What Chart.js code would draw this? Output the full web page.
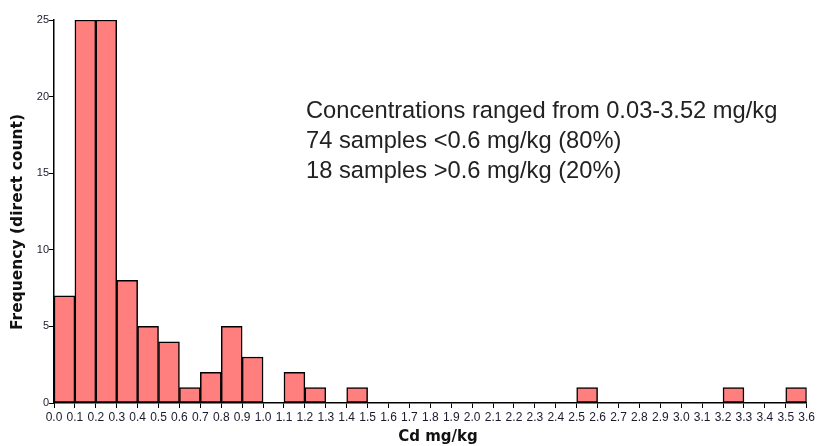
<!DOCTYPE html>
<html>
<head>
<meta charset="utf-8">
<script src="https://cdn.jsdelivr.net/npm/chart.js@4/dist/chart.umd.min.js"></script>
<style>
  html, body { margin: 0; padding: 0; background: #fff; }
  #wrap { width: 817px; height: 446px; position: relative; }
</style>
</head>
<body>
<div id="wrap"><canvas id="histChart"></canvas></div>
<script>
// Cd concentration bins (mg/kg), lower edge of each 0.1-wide bin
const binStarts = [
  0.0, 0.1, 0.2, 0.3, 0.4, 0.5, 0.6, 0.7, 0.8, 0.9,
  1.0, 1.1, 1.2, 1.3, 1.4, 1.5, 1.6, 1.7, 1.8, 1.9,
  2.0, 2.1, 2.2, 2.3, 2.4, 2.5, 2.6, 2.7, 2.8, 2.9,
  3.0, 3.1, 3.2, 3.3, 3.4, 3.5,
];
const counts = [
  7, 25, 25, 8, 5, 4, 1, 2, 5, 3,
  0, 2, 1, 0, 1, 0, 0, 0, 0, 0,
  0, 0, 0, 0, 0, 1, 0, 0, 0, 0,
  0, 0, 1, 0, 0, 1,
];
const binWidth = 0.1;
const xMin = 0;
const xMax = 3.6;
const yTicks = [0, 5, 10, 15, 20, 25];

const notes = [
  "Concentrations ranged from 0.03-3.52 mg/kg",
  "74 samples <0.6 mg/kg (80%)",
  "18 samples >0.6 mg/kg (20%)",
];
const xTitle = "Cd mg/kg";
const yTitle = "Frequency (direct count)";

const tickFont = {
  family: '"Liberation Sans", Arial, sans-serif',
  size: 12,
};

// axis titles and the text block, drawn on top of the chart
const textPlugin = {
  id: "textBlock",
  afterDraw(c) {
    const ctx = c.ctx;
    const area = c.chartArea;
    ctx.save();
    ctx.fillStyle = "#111";
    ctx.font = 'bold 15px "DejaVu Sans", sans-serif';
    ctx.textAlign = "center";
    ctx.textBaseline = "middle";
    ctx.fillText(xTitle, area.left + 384, 437);
    ctx.font = 'bold 15.5px "DejaVu Sans", sans-serif';
    ctx.translate(18, 222);
    ctx.rotate(-Math.PI / 2);
    ctx.fillText(yTitle, 0, 0);
    ctx.restore();

    ctx.save();
    ctx.fillStyle = "#222";
    ctx.font = '23.7px "Liberation Sans", Arial, sans-serif';
    ctx.textAlign = "left";
    ctx.textBaseline = "alphabetic";
    notes.forEach((line, i) => {
      ctx.fillText(line, area.left + 252, 118 + i * 30);
    });
    ctx.restore();
  },
};

const chart = new Chart(document.getElementById("histChart"), {
  type: "bar",
  data: {
    datasets: [
      {
        data: binStarts.map((s, i) => ({ x: s + binWidth / 2, y: counts[i] })),
        backgroundColor: "#FF7F7F",
        borderColor: "#000",
        borderWidth: 1.5,
        borderSkipped: false,
        barPercentage: 1,
        categoryPercentage: 1,
      },
    ],
  },
  options: {
    responsive: true,
    maintainAspectRatio: false,
    animation: false,
    layout: { padding: { top: 20, right: 9, left: 0, bottom: 0 } },
    plugins: {
      legend: { display: false },
      tooltip: { enabled: false },
    },
    scales: {
      x: {
        type: "linear",
        min: xMin,
        max: xMax,
        offset: false,
        grid: {
          offset: false,
          drawOnChartArea: false,
          color: "#000",
          tickLength: 5,
          lineWidth: 1,
        },
        border: { color: "#000", width: 1.5 },
        ticks: {
          stepSize: binWidth,
          autoSkip: false,
          maxRotation: 0,
          padding: 2,
          color: "#1a1a2e",
          font: tickFont,
          callback: (v) => Number(v).toFixed(1),
        },
        afterFit: (scale) => {
          scale.height = 43;
        },
      },
      y: {
        min: yTicks[0],
        max: yTicks[yTicks.length - 1],
        grid: {
          drawOnChartArea: false,
          color: "#000",
          tickLength: 5,
          lineWidth: 1,
        },
        border: { color: "#000", width: 1.5 },
        afterBuildTicks: (scale) => {
          scale.ticks = yTicks.map((v) => ({ value: v }));
        },
        ticks: {
          padding: 0,
          color: "#1a1a2e",
          font: { ...tickFont, size: 11 },
        },
        afterFit: (scale) => {
          scale.width = 54;
        },
      },
    },
  },
  plugins: [textPlugin],
});
</script>
</body>
</html>
